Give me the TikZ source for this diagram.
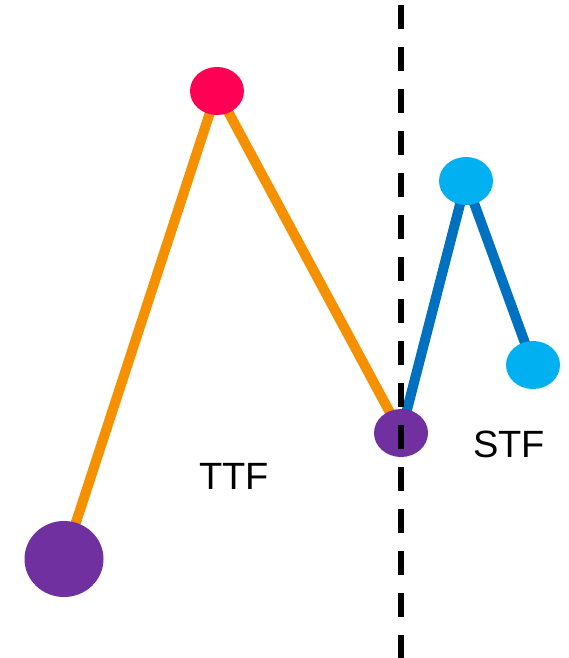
\documentclass[tikz,border=0pt]{standalone}
\usepackage{fontspec}
\setmainfont{Liberation Sans}
\usetikzlibrary{shapes.geometric,backgrounds}
\definecolor{ttforange}{RGB}{245,145,0}
\definecolor{peakred}{RGB}{255,0,85}
\definecolor{valleypurple}{RGB}{112,48,160}
\definecolor{stfcyan}{RGB}{0,176,240}
\definecolor{stfblue}{RGB}{0,112,192}
\begin{document}
\begin{tikzpicture}[x=1pt,y=-1pt,
  dot/.style={ellipse, inner sep=0pt, minimum width=54pt, minimum height=48pt, draw=none},
  seg/.style={line width=10pt},
  lbl/.style={font=\fontsize{38}{40}\selectfont, inner sep=0pt}]
\useasboundingbox (0,0) rectangle (568,658);
% dots
\node[dot, fill=valleypurple, minimum width=79pt, minimum height=76pt] (a) at (64,559) {};
\node[dot, fill=peakred] (b) at (217,91) {};
\node[dot, fill=valleypurple] (c) at (401,433) {};
\node[dot, fill=stfcyan] (d) at (466,181) {};
\node[dot, fill=stfcyan] (e) at (533,365) {};
% connectors, kept behind the dots
\begin{scope}[on background layer]
\draw[seg, ttforange] (a.center) -- (b.center) -- (c.center);
\draw[seg, stfblue] (c.center) -- (d.center) -- (e.center);
\end{scope}
% divider
\coordinate (top) at (401,5);
\coordinate (bot) at (401,660);
\draw[line width=6pt, dash pattern=on 24pt off 18pt] (top) -- (bot);
% labels
\node[lbl] (ttf) at (234,476) {TTF};
\node[lbl] (stf) at (509,444) {STF};
\end{tikzpicture}
\end{document}
